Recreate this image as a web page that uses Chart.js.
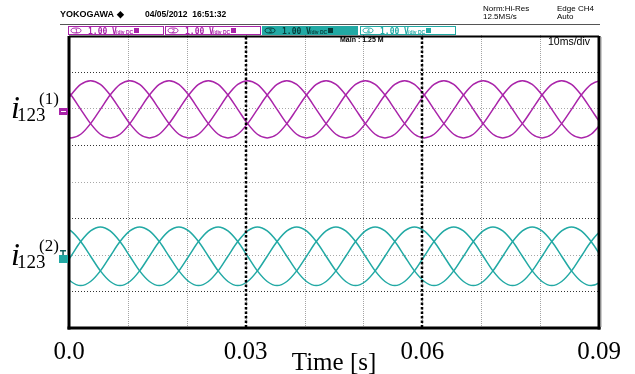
<!DOCTYPE html>
<html>
<head>
<meta charset="utf-8">
<title>i123 currents</title>
<script src="https://cdn.jsdelivr.net/npm/chart.js@4.4.1/dist/chart.umd.min.js"></script>
<style>
    html, body { margin: 0; padding: 0; background: #fff; }
    #scope { display: block; }
</style>
</head>
<body>
<canvas id="scope" width="635" height="374"></canvas>
<script>
// Sample instants [s] (one sample every 30 electrical degrees, 50 Hz)
const time = [
    -0.00134, 0.00033, 0.00199, 0.00366, 0.00533, 0.00699, 0.00866, 0.01033, 0.01199, 0.01366, 0.01533, 0.01699,
    0.01866, 0.02033, 0.02199, 0.02366, 0.02533, 0.02699, 0.02866, 0.03033, 0.03199, 0.03366, 0.03533, 0.03699,
    0.03866, 0.04033, 0.04199, 0.04366, 0.04533, 0.04699, 0.04866, 0.05033, 0.05199, 0.05366, 0.05533, 0.05699,
    0.05866, 0.06033, 0.06199, 0.06366, 0.06533, 0.06699, 0.06866, 0.07033, 0.07199, 0.07366, 0.07533, 0.07699,
    0.07866, 0.08033, 0.08199, 0.08366, 0.08533, 0.08699, 0.08866, 0.09033, 0.09199
];

// Upper trace group i123(1) (screen divisions)
const i1a = [
    1.97, 2.36, 2.65, 2.75, 2.65, 2.36, 1.97, 1.58, 1.29, 1.19, 1.29, 1.58,
    1.97, 2.36, 2.65, 2.75, 2.65, 2.36, 1.97, 1.58, 1.29, 1.19, 1.29, 1.58,
    1.97, 2.36, 2.65, 2.75, 2.65, 2.36, 1.97, 1.58, 1.29, 1.19, 1.29, 1.58,
    1.97, 2.36, 2.65, 2.75, 2.65, 2.36, 1.97, 1.58, 1.29, 1.19, 1.29, 1.58,
    1.97, 2.36, 2.65, 2.75, 2.65, 2.36, 1.97, 1.58, 1.29
];
const i1b = [
    1.29, 1.19, 1.29, 1.58, 1.97, 2.36, 2.65, 2.75, 2.65, 2.36, 1.97, 1.58,
    1.29, 1.19, 1.29, 1.58, 1.97, 2.36, 2.65, 2.75, 2.65, 2.36, 1.97, 1.58,
    1.29, 1.19, 1.29, 1.58, 1.97, 2.36, 2.65, 2.75, 2.65, 2.36, 1.97, 1.58,
    1.29, 1.19, 1.29, 1.58, 1.97, 2.36, 2.65, 2.75, 2.65, 2.36, 1.97, 1.58,
    1.29, 1.19, 1.29, 1.58, 1.97, 2.36, 2.65, 2.75, 2.65
];
const i1c = [
    2.65, 2.36, 1.97, 1.58, 1.29, 1.19, 1.29, 1.58, 1.97, 2.36, 2.65, 2.75,
    2.65, 2.36, 1.97, 1.58, 1.29, 1.19, 1.29, 1.58, 1.97, 2.36, 2.65, 2.75,
    2.65, 2.36, 1.97, 1.58, 1.29, 1.19, 1.29, 1.58, 1.97, 2.36, 2.65, 2.75,
    2.65, 2.36, 1.97, 1.58, 1.29, 1.19, 1.29, 1.58, 1.97, 2.36, 2.65, 2.75,
    2.65, 2.36, 1.97, 1.58, 1.29, 1.19, 1.29, 1.58, 1.97
];

// Lower trace group i123(2)
const i2a = [
    -2.44, -2.04, -1.64, -1.35, -1.24, -1.35, -1.64, -2.04, -2.44, -2.73, -2.84, -2.73,
    -2.44, -2.04, -1.64, -1.35, -1.24, -1.35, -1.64, -2.04, -2.44, -2.73, -2.84, -2.73,
    -2.44, -2.04, -1.64, -1.35, -1.24, -1.35, -1.64, -2.04, -2.44, -2.73, -2.84, -2.73,
    -2.44, -2.04, -1.64, -1.35, -1.24, -1.35, -1.64, -2.04, -2.44, -2.73, -2.84, -2.73,
    -2.44, -2.04, -1.64, -1.35, -1.24, -1.35, -1.64, -2.04, -2.44
];
const i2b = [
    -2.44, -2.73, -2.84, -2.73, -2.44, -2.04, -1.64, -1.35, -1.24, -1.35, -1.64, -2.04,
    -2.44, -2.73, -2.84, -2.73, -2.44, -2.04, -1.64, -1.35, -1.24, -1.35, -1.64, -2.04,
    -2.44, -2.73, -2.84, -2.73, -2.44, -2.04, -1.64, -1.35, -1.24, -1.35, -1.64, -2.04,
    -2.44, -2.73, -2.84, -2.73, -2.44, -2.04, -1.64, -1.35, -1.24, -1.35, -1.64, -2.04,
    -2.44, -2.73, -2.84, -2.73, -2.44, -2.04, -1.64, -1.35, -1.24
];
const i2c = [
    -1.24, -1.35, -1.64, -2.04, -2.44, -2.73, -2.84, -2.73, -2.44, -2.04, -1.64, -1.35,
    -1.24, -1.35, -1.64, -2.04, -2.44, -2.73, -2.84, -2.73, -2.44, -2.04, -1.64, -1.35,
    -1.24, -1.35, -1.64, -2.04, -2.44, -2.73, -2.84, -2.73, -2.44, -2.04, -1.64, -1.35,
    -1.24, -1.35, -1.64, -2.04, -2.44, -2.73, -2.84, -2.73, -2.44, -2.04, -1.64, -1.35,
    -1.24, -1.35, -1.64, -2.04, -2.44, -2.73, -2.84, -2.73, -2.44
];

// Axis
const divTimes = [0, 0.01, 0.02, 0.03, 0.04, 0.05, 0.06, 0.07, 0.08, 0.09];
const tickValues = [0, 0.03, 0.06, 0.09];
const tickLabels = ['0.0', '0.03', '0.06', '0.09'];
const cursorTimes = [0.03, 0.06];
const yDivs = [-3, -2, -1, 0, 1, 2, 3];

const MAGENTA = '#a924a9';
const TEAL = '#22a9a4';

function labelFor(v) {
    const i = tickValues.findIndex(t => Math.abs(t - v) < 1e-6);
    return i >= 0 ? tickLabels[i] : '';
}

function toPoints(ys) {
    return time.map((t, i) => ({ x: t, y: ys[i] }));
}

function vline(ctx, x, y0, y1) {
    ctx.beginPath();
    ctx.moveTo(x, y0);
    ctx.lineTo(x, y1);
    ctx.stroke();
}

function hline(ctx, y, x0, x1) {
    ctx.beginPath();
    ctx.moveTo(x0, y);
    ctx.lineTo(x1, y);
    ctx.stroke();
}

// Grid, cursors, frame and screen annotations of the scope
const scopeDecor = {
    id: 'scopeDecor',
    beforeDatasetsDraw(chart) {
        const { ctx, chartArea: a, scales: { x, y } } = chart;
        ctx.save();
        ctx.lineWidth = 1;

        // vertical divisions
        ctx.strokeStyle = '#a4a4a4';
        ctx.setLineDash([1, 1]);
        divTimes.forEach(t => {
            if (t <= 0 || t >= 0.09) return;
            const px = Math.round(x.getPixelForValue(t)) + 0.5;
            vline(ctx, px, a.top, a.bottom);
        });

        // horizontal divisions
        yDivs.forEach(v => {
            const py = Math.round(y.getPixelForValue(v)) + 0.5;
            if (Math.abs(v) % 2 === 1) {
                ctx.strokeStyle = '#333';
                ctx.setLineDash([1, 2]);
            } else {
                ctx.strokeStyle = '#a8a8a8';
                ctx.setLineDash([1, 2]);
            }
            hline(ctx, py, a.left, a.right);
        });
        ctx.restore();
    },
    afterDatasetsDraw(chart) {
        const { ctx, chartArea: a, scales: { x } } = chart;
        ctx.save();

        // cursors
        ctx.strokeStyle = '#000';
        ctx.lineWidth = 2.5;
        ctx.setLineDash([2.5, 2]);
        cursorTimes.forEach(t => {
            const px = Math.round(x.getPixelForValue(t));
            vline(ctx, px, a.top + 2, a.bottom);
        });
        ctx.setLineDash([]);

        // frame
        ctx.strokeStyle = '#000';
        ctx.lineWidth = 2;
        hline(ctx, 36.5, a.left, a.right);
        ctx.lineWidth = 3;
        vline(ctx, a.left, 36, a.bottom + 1.5);
        hline(ctx, a.bottom, a.left - 1.5, a.right + 1.5);
        vline(ctx, a.right, 36, a.bottom + 1.5);
        ctx.strokeStyle = '#9a9a9a';
        ctx.lineWidth = 1;
        vline(ctx, a.right + 2, 37, a.bottom - 1);
        ctx.restore();
    },
    afterDraw(chart) {
        const { ctx, scales: { y } } = chart;
        ctx.save();
        ctx.textBaseline = 'alphabetic';

        // header
        ctx.fillStyle = '#000';
        ctx.font = 'bold 9px "Liberation Sans"';
        ctx.fillText('YOKOGAWA \u25C6', 60, 17);
        ctx.font = 'bold 8.5px "Liberation Sans"';
        ctx.fillText('04/05/2012  16:51:32', 145, 17);
        ctx.font = '8px "Liberation Sans"';
        ctx.fillText('Norm:Hi-Res', 483, 11);
        ctx.fillText('12.5MS/s', 483, 19);
        ctx.fillText('Edge CH4', 557, 11);
        ctx.fillText('Auto', 557, 19);
        ctx.strokeStyle = '#555';
        ctx.lineWidth = 1;
        hline(ctx, 24.5, 60, 600);

        // channel bar
        const boxes = [
            { x: 68, fill: null, line: MAGENTA, text: MAGENTA, n: '1' },
            { x: 165, fill: null, line: MAGENTA, text: MAGENTA, n: '2' },
            { x: 262, fill: TEAL, line: TEAL, text: '#053b39', n: '3' },
            { x: 360, fill: null, line: TEAL, text: TEAL, n: '4' }
        ];
        boxes.forEach(b => {
            if (b.fill) {
                ctx.fillStyle = b.fill;
                ctx.fillRect(b.x, 26, 95, 8);
            }
            ctx.strokeStyle = b.line;
            ctx.strokeRect(b.x + 0.5, 26.5, 95, 8);
            ctx.fillStyle = b.text;
            ctx.strokeStyle = b.text;
            ctx.beginPath();
            ctx.ellipse(b.x + 8, 30.5, 5, 2.5, 0, 0, Math.PI * 2);
            ctx.stroke();
            ctx.font = 'bold 5px "Liberation Sans"';
            ctx.fillText(b.n, b.x + 7, 32.5);
            ctx.font = 'bold 8px "DejaVu Sans Mono"';
            ctx.fillText('1.00 V', b.x + 20, 33.5);
            ctx.font = 'bold 5px "Liberation Sans"';
            ctx.fillText('/div', b.x + 48, 33.5);
            ctx.fillText('DC', b.x + 58, 33.5);
            ctx.fillRect(b.x + 66, 28, 5, 5);
        });

        ctx.fillStyle = '#000';
        ctx.font = 'bold 7px "Liberation Sans"';
        ctx.fillText('Main : 1.25 M', 340, 42);
        ctx.font = '10.5px "Liberation Sans"';
        ctx.fillText('10ms/div', 548, 45);

        // channel markers
        ctx.fillStyle = MAGENTA;
        ctx.fillRect(59, 108, 9, 7);
        ctx.fillStyle = '#fff';
        ctx.fillRect(61, 111, 5, 1);
        ctx.fillStyle = TEAL;
        ctx.fillRect(59, 255, 9, 8);
        ctx.fillStyle = '#0c5f5c';
        ctx.fillRect(60, 250, 6, 1.5);
        ctx.fillRect(62.3, 250, 1.5, 5);

        // trace labels
        const labels = [{ sup: '(1)', v: 2 }, { sup: '(2)', v: -2 }];
        ctx.fillStyle = '#000';
        labels.forEach(l => {
            const base = y.getPixelForValue(l.v) + 10;
            ctx.font = 'italic 32px "Liberation Serif"';
            ctx.fillText('i', 11, base);
            ctx.font = '19px "Liberation Serif"';
            ctx.fillText('123', 17, base + 3);
            ctx.font = '17px "Liberation Serif"';
            ctx.fillText(l.sup, 39, base - 14);
        });
        ctx.restore();
    }
};

const ctx = document.getElementById('scope').getContext('2d');

new Chart(ctx, {
    type: 'line',
    data: {
        datasets: [
            { data: toPoints(i1a), borderColor: MAGENTA },
            { data: toPoints(i1b), borderColor: MAGENTA },
            { data: toPoints(i1c), borderColor: MAGENTA },
            { data: toPoints(i2a), borderColor: TEAL },
            { data: toPoints(i2b), borderColor: TEAL },
            { data: toPoints(i2c), borderColor: TEAL }
        ]
    },
    options: {
        responsive: false,
        animation: false,
        layout: { padding: { left: 69, right: 36, top: 35, bottom: 0 } },
        datasets: {
            line: {
                borderWidth: 1.5,
                pointRadius: 0,
                fill: false,
                cubicInterpolationMode: 'monotone'
            }
        },
        plugins: {
            legend: { display: false },
            tooltip: { enabled: false }
        },
        scales: {
            x: {
                type: 'linear',
                min: 0,
                max: 0.09,
                afterBuildTicks: scale => {
                    scale.ticks = divTimes.map(v => ({ value: v }));
                },
                afterFit: scale => {
                    scale.height = 46;
                },
                grid: { display: false, drawTicks: false },
                border: { display: false },
                ticks: {
                    autoSkip: false,
                    maxRotation: 0,
                    padding: 9,
                    color: '#000',
                    font: { family: '"Liberation Serif"', size: 25 },
                    callback: v => labelFor(v)
                },
                title: {
                    display: true,
                    text: 'Time [s]',
                    color: '#000',
                    font: { family: '"Liberation Serif"', size: 25 },
                    padding: { top: 0, bottom: -4 }
                }
            },
            y: {
                display: false,
                min: -4,
                max: 4
            }
        }
    },
    plugins: [scopeDecor]
});
</script>
</body>
</html>
